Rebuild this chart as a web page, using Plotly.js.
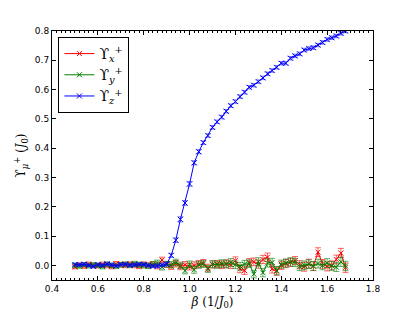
<!DOCTYPE html>
<html>
<head>
<meta charset="utf-8">
<script src="https://cdn.plot.ly/plotly-3.0.1.min.js"></script>
<style>html,body{margin:0;padding:0;background:#fff;}#plot{width:415px;height:312px;}</style>
</head>
<body>
<div id="plot"></div>
<script>
// beta values (1/J0)
var beta = [0.50,0.52,0.54,0.56,0.58,0.60,0.62,0.64,0.66,0.68,
            0.70,0.72,0.74,0.76,0.78,0.80,0.82,0.84,0.86,0.88,
            0.90,0.92,0.94,0.96,0.98,1.00,1.02,1.04,1.06,1.08,
            1.10,1.12,1.14,1.16,1.18,1.20,1.22,1.24,1.26,1.28,
            1.30,1.32,1.34,1.36,1.38,1.40,1.42,1.44,1.46,1.48,
            1.50,1.52,1.54,1.56,1.58,1.60,1.62,1.64,1.66,1.68];

var upsX = [-0.005,0.002,-0.003,0.004,0.000,-0.002,0.003,0.000,-0.004,0.005,
            0.002,0.000,0.004,0.001,-0.002,0.003,0.000,0.004,-0.002,0.018,
            0.003,-0.003,0.006,-0.004,0.002,-0.005,0.000,0.004,0.008,-0.008,
            0.003,0.005,0.002,0.006,0.002,0.016,-0.012,-0.018,0.010,0.012,
            0.004,0.020,0.028,-0.012,-0.020,0.000,0.006,0.010,0.016,0.002,
            -0.005,0.006,-0.003,0.045,0.005,-0.004,0.000,0.020,0.042,-0.008];
var errX = [0.007,0.007,0.007,0.007,0.007,0.007,0.008,0.008,0.008,0.008,
            0.008,0.008,0.008,0.009,0.009,0.009,0.009,0.009,0.010,0.010,
            0.010,0.011,0.011,0.011,0.011,0.011,0.012,0.012,0.012,0.012,
            0.012,0.012,0.013,0.013,0.013,0.013,0.013,0.013,0.013,0.013,
            0.014,0.014,0.014,0.014,0.014,0.014,0.014,0.014,0.014,0.014,
            0.015,0.015,0.015,0.015,0.015,0.015,0.015,0.015,0.016,0.016];

var upsY = [0.000,-0.003,0.003,-0.002,0.002,0.000,-0.004,0.004,0.000,-0.003,
            0.002,0.004,0.000,0.005,0.002,0.000,-0.002,0.003,0.008,-0.006,
            0.004,0.002,0.010,0.000,-0.018,0.004,-0.015,0.002,0.005,-0.012,
            0.004,0.002,0.006,0.004,0.010,0.002,-0.003,0.004,0.006,-0.030,
            0.012,-0.025,0.008,0.010,-0.018,0.004,0.008,0.012,0.010,-0.004,
            0.000,0.004,-0.002,0.006,0.000,0.008,-0.002,-0.006,0.012,-0.002];
var errY = [0.007,0.007,0.007,0.007,0.007,0.007,0.008,0.008,0.008,0.008,
            0.008,0.008,0.008,0.009,0.009,0.009,0.009,0.009,0.010,0.010,
            0.010,0.011,0.011,0.011,0.011,0.011,0.012,0.012,0.012,0.012,
            0.012,0.012,0.013,0.013,0.013,0.013,0.013,0.013,0.013,0.013,
            0.014,0.014,0.014,0.014,0.014,0.014,0.014,0.014,0.014,0.014,
            0.015,0.015,0.015,0.015,0.015,0.015,0.015,0.015,0.016,0.016];

var upsZ = [0.003,0.002,0.004,0.000,-0.004,0.003,0.000,0.005,0.002,-0.002,
            0.003,0.004,0.000,0.002,0.004,0.003,0.000,-0.003,-0.002,0.002,
            0.004,0.034,0.086,0.157,0.213,0.278,0.350,0.388,0.419,0.443,
            0.471,0.490,0.506,0.526,0.545,0.559,0.576,0.591,0.608,0.615,
            0.627,0.640,0.654,0.665,0.676,0.690,0.690,0.707,0.715,0.722,
            0.735,0.740,0.743,0.752,0.761,0.771,0.777,0.783,0.792,0.800];
var errZ = [0.005,0.005,0.005,0.005,0.005,0.005,0.005,0.005,0.005,0.005,
            0.005,0.005,0.005,0.005,0.005,0.005,0.005,0.005,0.006,0.006,
            0.006,0.007,0.008,0.009,0.008,0.008,0.007,0.007,0.006,0.006,
            0.006,0.006,0.006,0.006,0.006,0.006,0.006,0.006,0.006,0.006,
            0.006,0.006,0.006,0.006,0.006,0.006,0.006,0.006,0.006,0.006,
            0.006,0.006,0.006,0.006,0.006,0.006,0.006,0.006,0.006,0.006];

var names = ['ϒ<sub><i>x</i></sub><sup>+</sup>','ϒ<sub><i>y</i></sub><sup>+</sup>','ϒ<sub><i>z</i></sub><sup>+</sup>'];

function mk(y, err, color, ecolor, name){
  return {
    x: beta, y: y, name: name, type: 'scatter', mode: 'lines+markers',
    line: {color: color, width: 1},
    marker: {symbol: 'x-thin', size: 5, line: {color: color, width: 1}, color: color},
    error_y: {type: 'data', array: err, visible: true, color: ecolor, thickness: 1, width: 3}
  };
}

var data = [
  mk(upsX, errX, '#ff0000', 'rgba(255,0,0,0.6)', names[0]),
  mk(upsY, errY, '#008000', 'rgba(0,128,0,0.6)', names[1]),
  mk(upsZ, errZ, '#0000ff', 'rgba(0,0,255,0.45)', names[2])
];

var axisCommon = {
  showgrid: false, zeroline: false, showline: true, linecolor: '#000', linewidth: 1,
  mirror: 'allticks', ticks: 'inside', ticklen: 4, tickcolor: '#000',
  tickfont: {family: 'DejaVu Sans', size: 9, color: '#000'}
};

var layout = {
  width: 415, height: 312,
  margin: {l: 52, r: 42, t: 31, b: 32},
  paper_bgcolor: '#fff', plot_bgcolor: '#fff',
  showlegend: true,
  legend: {
    x: 0.02, y: 0.976, xanchor: 'left', yanchor: 'top',
    bgcolor: '#fff', bordercolor: '#000', borderwidth: 1,
    font: {family: 'DejaVu Serif', size: 14, color: '#000'},
    tracegroupgap: 6, itemwidth: 30
  },
  xaxis: Object.assign({}, axisCommon, {
    range: [0.4, 1.8], dtick: 0.2, tick0: 0.4, tickformat: '.1f',
    minor: {dtick: 0.02, ticks: 'inside', ticklen: 2, tickcolor: '#000'},
    title: {text: '<i>β</i> (1/<i>J</i><sub>0</sub>)', font: {family: 'DejaVu Serif', size: 12, color: '#000'}, standoff: 4}
  }),
  yaxis: Object.assign({}, axisCommon, {
    range: [-0.05, 0.8], dtick: 0.1, tick0: 0, tickformat: '.1f',
    title: {text: 'ϒ<sub><i>μ</i></sub><sup>+</sup> (<i>J</i><sub>0</sub>)', font: {family: 'DejaVu Serif', size: 12, color: '#000'}, standoff: 6}
  })
};

Plotly.newPlot('plot', data, layout, {displayModeBar: false, staticPlot: true});
</script>
</body>
</html>
